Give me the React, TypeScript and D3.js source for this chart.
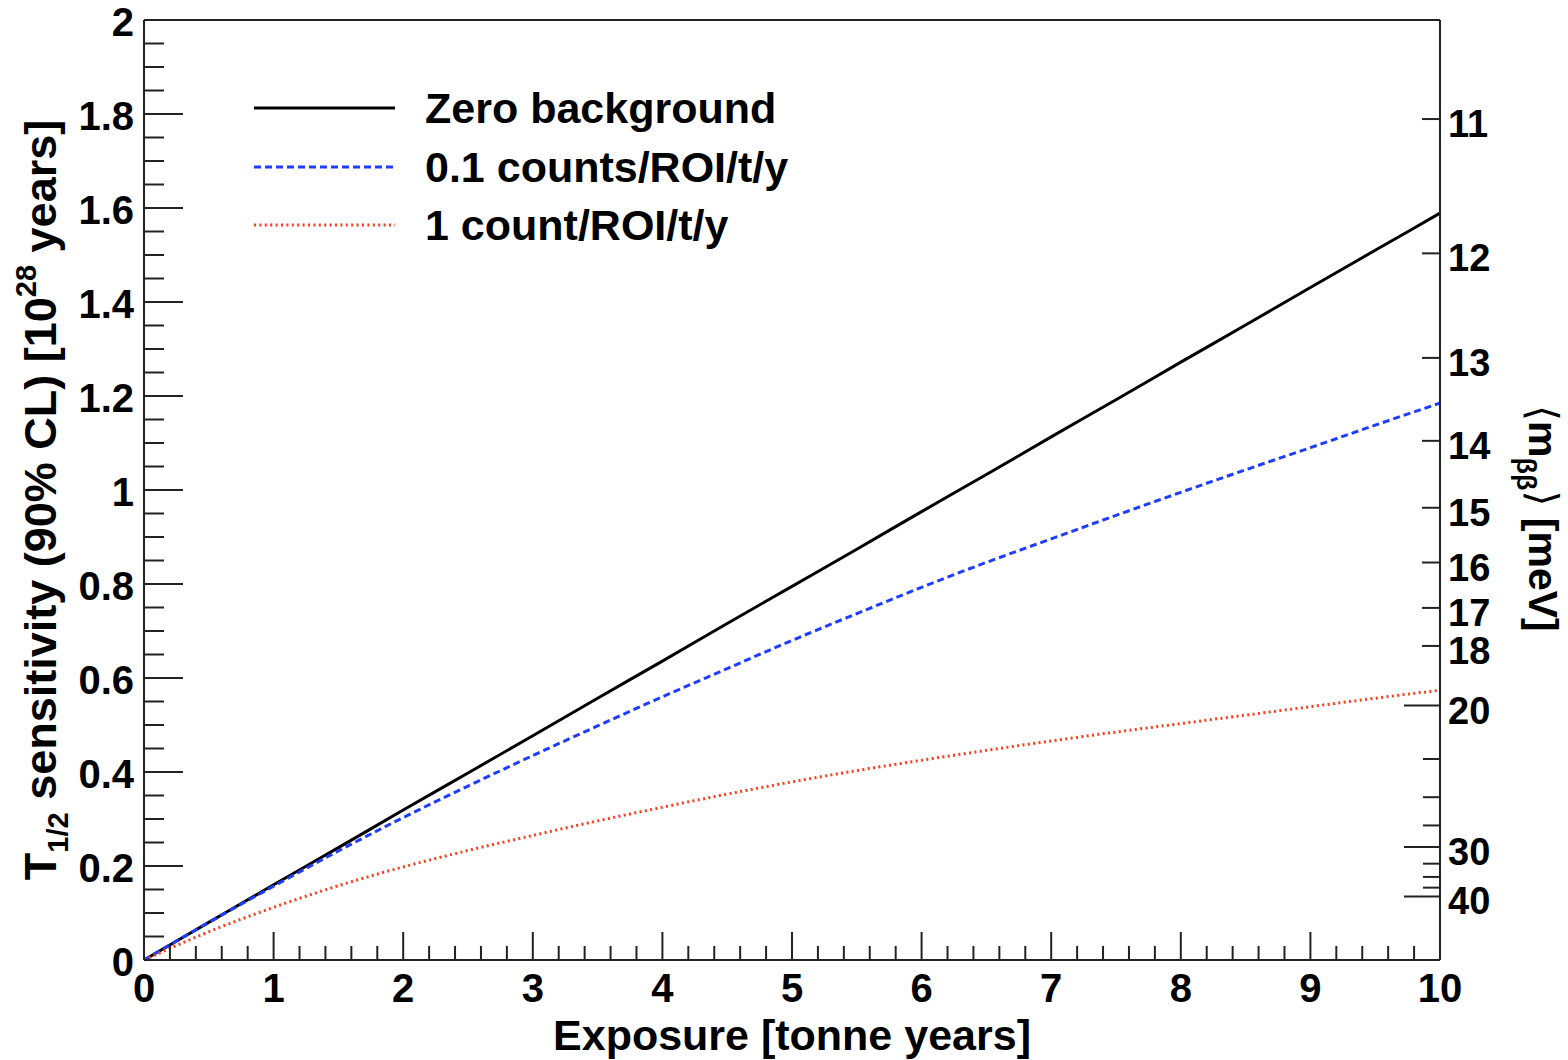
import * as d3 from 'd3';

const exposure = [0, 0.5, 1, 1.5, 2, 2.5, 3, 3.5, 4, 4.5, 5, 5.5, 6, 6.5, 7, 7.5, 8, 8.5, 9, 9.5, 10];
const zeroBkg = [0, 0.08, 0.16, 0.239, 0.319, 0.398, 0.477, 0.557, 0.636, 0.716, 0.795, 0.874, 0.954, 1.033, 1.113, 1.192, 1.272, 1.351, 1.431, 1.51, 1.589];
const bkg01 = [0, 0.08, 0.157, 0.232, 0.303, 0.37, 0.435, 0.498, 0.56, 0.62, 0.68, 0.737, 0.793, 0.846, 0.896, 0.946, 0.995, 1.043, 1.09, 1.138, 1.185];
const bkg1 = [0, 0.06, 0.112, 0.158, 0.198, 0.233, 0.265, 0.296, 0.325, 0.353, 0.379, 0.403, 0.425, 0.446, 0.466, 0.485, 0.503, 0.521, 0.539, 0.557, 0.574];

const seriesNames = ['Zero background', '0.1 counts/ROI/t/y', '1 count/ROI/t/y'];
const seriesColors = ['#000000', '#1f3dff', '#ff3a1a'];
const seriesDash = [null, '7 4', '2 3.4'];

const xTicks = [0, 1, 2, 3, 4, 5, 6, 7, 8, 9, 10];
const yTicks = [0, 0.2, 0.4, 0.6, 0.8, 1, 1.2, 1.4, 1.6, 1.8, 2];
// right axis: effective Majorana mass in meV, T1/2 = K / m^2
const massK = 216.5;
const massLabels = [11, 12, 13, 14, 15, 16, 17, 18, 20, 30, 40];
const massLong = [20, 30, 40];
const massMinor = [22.5, 25, 27.5, 32.5, 35, 37.5];

const W = 1568, H = 1060;
const m = { left: 144, right: 1440, top: 20, bottom: 960 };
const FONT = "'Liberation Sans', Arial, Helvetica, sans-serif";

export default function App() {
  const x = d3.scaleLinear().domain([0, 10]).range([m.left, m.right]);
  const y = d3.scaleLinear().domain([0, 2]).range([m.bottom, m.top]);
  const massY = (v: number) => y(massK / (v * v));

  const line = d3.line<[number, number]>()
    .x(d => x(d[0]))
    .y(d => y(d[1]))
    .curve(d3.curveMonotoneX);
  const series = [zeroBkg, bkg01, bkg1];

  const xMinor = d3.range(0, 10.001, 0.2).filter(v => Math.abs(v - Math.round(v)) > 1e-6);
  const yMinor = d3.range(0, 2.001, 0.05).filter(v => Math.abs(v * 5 - Math.round(v * 5)) > 1e-6);

  const legendY = [108, 167, 225];

  return (
    <svg width={W} height={H} style={{ position: 'absolute', left: 0, top: 0, background: '#fff' }}
      fontFamily={FONT} fontWeight="bold">
      {/* curves */}
      <g fill="none">
        {series.map((s, i) => (
          <path key={i} d={line(exposure.map((e, j) => [e, s[j]]) as [number, number][]) || ''}
            stroke={seriesColors[i]} strokeWidth={3} strokeDasharray={seriesDash[i] || undefined} />
        ))}
      </g>

      {/* frame */}
      <g stroke="#222" strokeWidth={2} fill="none">
        <line x1={m.left} x2={m.right} y1={m.top} y2={m.top} />
        <line x1={m.left} x2={m.right} y1={m.bottom} y2={m.bottom} />
        <line x1={m.left} x2={m.left} y1={m.top} y2={m.bottom} />
        <line x1={m.right} x2={m.right} y1={m.top} y2={m.bottom} />
      </g>

      {/* ticks */}
      <g stroke="#222" strokeWidth={2}>
        {xTicks.map(t => <line key={'xt' + t} x1={x(t)} x2={x(t)} y1={m.bottom} y2={m.bottom - 28} />)}
        {xMinor.map(t => <line key={'xm' + t} x1={x(t)} x2={x(t)} y1={m.bottom} y2={m.bottom - 14} />)}
        {yTicks.map(t => <line key={'yt' + t} x1={m.left} x2={m.left + 39} y1={y(t)} y2={y(t)} />)}
        {yMinor.map(t => <line key={'ym' + t} x1={m.left} x2={m.left + 20} y1={y(t)} y2={y(t)} />)}
        {massLabels.map(t => (
          <line key={'mt' + t} x1={m.right} x2={m.right - (massLong.includes(t) ? 36 : 18)} y1={massY(t)} y2={massY(t)} />
        ))}
        {massMinor.map(t => <line key={'mm' + t} x1={m.right} x2={m.right - 17} y1={massY(t)} y2={massY(t)} />)}
      </g>

      {/* tick labels */}
      <g fontSize={40} fill="#000">
        {xTicks.map(t => (
          <text key={'xl' + t} x={x(t)} y={1002} textAnchor="middle">{t}</text>
        ))}
        {yTicks.map(t => (
          <text key={'yl' + t} x={134} y={y(t) + 16} textAnchor="end">{t}</text>
        ))}
      </g>
      <g fontSize={38} fill="#000">
        {massLabels.map(t => (
          <text key={'ml' + t} x={1448} y={massY(t) + 18} textAnchor="start">{t}</text>
        ))}
      </g>

      {/* axis titles */}
      <text x={(m.left + m.right) / 2} y={1050} textAnchor="middle" fontSize={43}>Exposure [tonne years]</text>

      <text transform="translate(56,500) rotate(-90)" textAnchor="middle" fontSize={45}>
        <tspan>T</tspan>
        <tspan fontSize={29} dy={12}>1/2</tspan>
        <tspan dy={-12}> sensitivity (90% CL) [10</tspan>
        <tspan fontSize={29} dy={-20}>28</tspan>
        <tspan dy={20}> years]</tspan>
      </text>

      <text transform="translate(1529,405) rotate(90)" textAnchor="start" fontSize={41}>
        <tspan fontFamily="'DejaVu Sans', sans-serif" fontWeight="normal">⟨</tspan>
        <tspan>m</tspan>
        <tspan fontSize={27} dy={12}>ββ</tspan>
        <tspan dy={-12} fontFamily="'DejaVu Sans', sans-serif" fontWeight="normal">⟩</tspan>
        <tspan> [meV]</tspan>
      </text>

      {/* legend */}
      <g>
        {seriesNames.map((n, i) => (
          <g key={n}>
            <line x1={254} x2={395} y1={legendY[i]} y2={legendY[i]} stroke={seriesColors[i]} strokeWidth={3}
              strokeDasharray={seriesDash[i] || undefined} />
            <text x={425} y={legendY[i] + 15} fontSize={43}>{n}</text>
          </g>
        ))}
      </g>
    </svg>
  );
}
